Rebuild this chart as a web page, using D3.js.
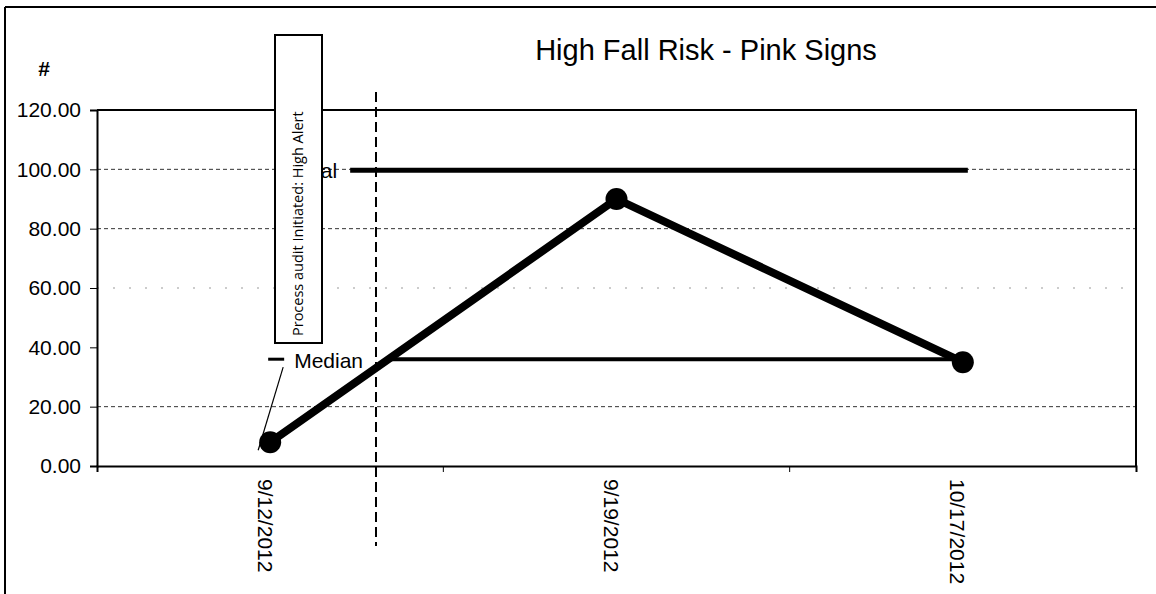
<!DOCTYPE html>
<html>
<head>
<meta charset="utf-8">
<script src="https://cdn.jsdelivr.net/npm/d3@7"></script>
<style>
  body { margin: 0; background: #fff; }
  text { font-family: "Liberation Sans", Arial, sans-serif; fill: #000; }
</style>
</head>
<body>
<svg id="chart"></svg>
<script>
// values
let dates = ["9/12/2012", "9/19/2012", "10/17/2012"];
let values = [8, 90, 35];
let goalValue = 100;
let medianValue = 36;
let yTicks = [0, 20, 40, 60, 80, 100, 120];
let gridValues = [20, 60, 80, 100];

let width = 1156;
let height = 594;
let margin = {left: 97, right: 20, top: 110, bottom: 128};

let svg = d3.select("#chart")
    .attr("width", width)
    .attr("height", height);

// outer frame (scan edges)
svg.append("line").attr("x1", 5).attr("x2", 5).attr("y1", 7).attr("y2", height)
    .attr("stroke", "#000").attr("stroke-width", 2);
svg.append("line").attr("x1", 5).attr("x2", width).attr("y1", 7).attr("y2", 7)
    .attr("stroke", "#000").attr("stroke-width", 2);

let x = d3.scaleBand()
    .domain(dates)
    .range([margin.left, width - margin.right]);

let y = d3.scaleLinear()
    .domain([0, 120])
    .range([height - margin.bottom, margin.top]);

// gridlines
svg.append("g")
    .selectAll("line")
    .data(gridValues)
    .enter().append("line")
    .attr("x1", margin.left)
    .attr("x2", width - margin.right)
    .attr("y1", d => y(d))
    .attr("y2", d => y(d))
    .attr("stroke", d => d == 60 ? "#999" : "#333")
    .attr("stroke-width", 1)
    .attr("stroke-dasharray", d => d == 60 ? "2,14" : "4,3");

// plot frame top + right
svg.append("path")
    .attr("d", "M" + margin.left + "," + y(120) + "H" + (width - margin.right) + "V" + y(0))
    .attr("fill", "none").attr("stroke", "#000").attr("stroke-width", 2);

// y axis
let yAxis = svg.append("g")
    .attr("transform", "translate(" + margin.left + ",0)")
    .call(d3.axisLeft(y).tickValues(yTicks).tickFormat(d3.format(".2f")).tickSize(7).tickPadding(9));
yAxis.select(".domain").attr("stroke-width", 2);
yAxis.selectAll("text").style("font-size", "21px").style("font-family", "Liberation Sans, Arial, sans-serif");

// x axis
let xAxis = svg.append("g")
    .attr("transform", "translate(0," + y(0) + ")")
    .call(d3.axisBottom(x).tickSize(6).tickSizeOuter(6).tickFormat(""));
xAxis.select(".domain").attr("stroke-width", 2);
// category ticks sit between the bands
xAxis.selectAll(".tick").remove();
xAxis.selectAll(".sep")
    .data(dates.slice(1))
    .enter().append("line")
    .attr("x1", d => x(d)).attr("x2", d => x(d))
    .attr("y1", 0).attr("y2", 6)
    .attr("stroke", "#000");

svg.append("g")
    .selectAll("text")
    .data(dates)
    .enter().append("text")
    .attr("transform", d => "translate(" + (x(d) + x.bandwidth() / 2 - 7) + "," + (y(0) + 13) + ") rotate(90)")
    .attr("text-anchor", "start")
    .attr("dominant-baseline", "middle")
    .style("font-size", "21px")
    .text(d => d);

// title and "#"
svg.append("text").attr("x", 706).attr("y", 60).attr("text-anchor", "middle")
    .style("font-size", "29px").text("High Fall Risk - Pink Signs");
svg.append("text").attr("x", 44).attr("y", 76).attr("text-anchor", "middle")
    .style("font-size", "21px").style("font-weight", "bold").text("#");

let cx = d => x(d) + x.bandwidth() / 2;

// goal line
svg.append("line")
    .attr("x1", cx(dates[0]) + 80).attr("x2", cx(dates[2]) + 5)
    .attr("y1", y(goalValue) + 1).attr("y2", y(goalValue) + 1)
    .attr("stroke", "#000").attr("stroke-width", 5);
svg.append("text").attr("x", cx(dates[0]) + 67).attr("y", y(goalValue) + 9)
    .attr("text-anchor", "end").style("font-size", "21px").text("Goal");

// median line
svg.append("line")
    .attr("x1", cx(dates[0]) + 115).attr("x2", cx(dates[2]))
    .attr("y1", y(medianValue)).attr("y2", y(medianValue))
    .attr("stroke", "#000").attr("stroke-width", 4);
svg.append("text").attr("x", cx(dates[0]) + 24).attr("y", y(medianValue) + 9)
    .style("font-size", "21px").text("Median");
svg.append("line")
    .attr("x1", cx(dates[0]) - 2).attr("x2", cx(dates[0]) + 14)
    .attr("y1", y(medianValue)).attr("y2", y(medianValue))
    .attr("stroke", "#000").attr("stroke-width", 3);
// callout from the median label down to the first point
svg.append("line")
    .attr("x1", cx(dates[0]) + 13).attr("y1", y(medianValue) + 8)
    .attr("x2", cx(dates[0]) - 12).attr("y2", y(values[0]) + 8)
    .attr("stroke", "#000").attr("stroke-width", 1.2);

// data line + markers
let line = d3.line()
    .x((d, i) => cx(dates[i]))
    .y(d => y(d));

svg.append("path")
    .datum(values)
    .attr("d", line)
    .attr("fill", "none")
    .attr("stroke", "#000")
    .attr("stroke-width", 8)
    .attr("stroke-linejoin", "round");

svg.append("g")
    .selectAll("circle")
    .data(values)
    .enter().append("circle")
    .attr("cx", (d, i) => cx(dates[i]))
    .attr("cy", d => y(d))
    .attr("r", 11)
    .attr("fill", "#000");

// vertical dashed marker line
let markX = x(dates[0]) + 279;
svg.append("line")
    .attr("x1", markX).attr("x2", markX)
    .attr("y1", 92).attr("y2", 546)
    .attr("stroke", "#000").attr("stroke-width", 2)
    .attr("stroke-dasharray", "10,5");

// annotation box
svg.append("rect")
    .attr("x", 275).attr("y", 35).attr("width", 47).attr("height", 308)
    .attr("fill", "#fff").attr("stroke", "#000").attr("stroke-width", 2);
svg.append("text")
    .attr("transform", "translate(303,336) rotate(-90)")
    .attr("text-anchor", "start")
    .style("font-family", "Open Sans, sans-serif")
    .style("font-size", "14.5px")
    .text("Process audit Initiated: High Alert");
</script>
</body>
</html>
